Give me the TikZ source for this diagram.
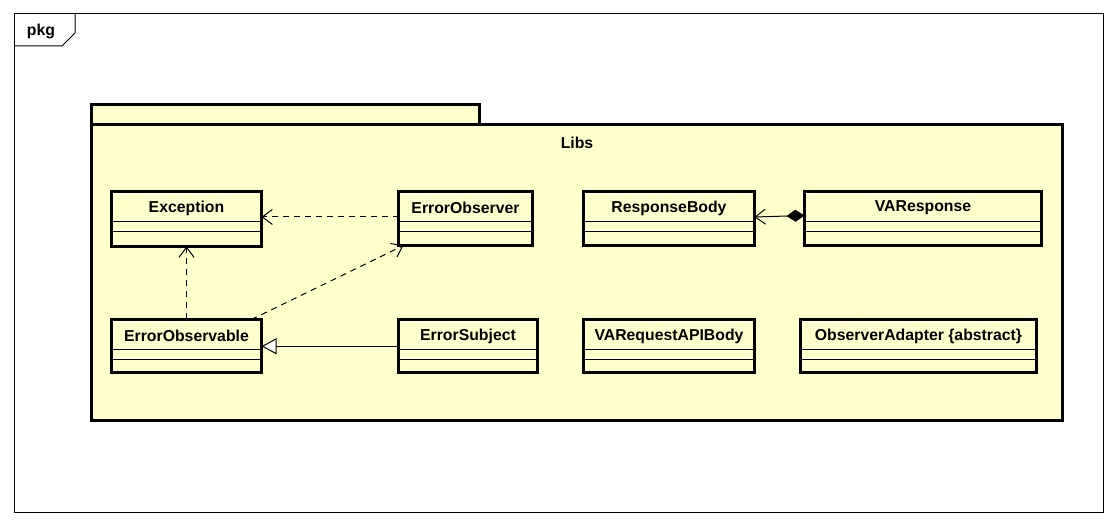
\documentclass[tikz,border=0pt]{standalone}
\usepackage{fontspec}
\setmainfont{Liberation Sans}
\usetikzlibrary{arrows.meta,calc}
\definecolor{pkgyellow}{RGB}{255,255,204}
\tikzset{
  clsbox/.style={draw=black, line width=3pt, fill=pkgyellow, inner sep=0pt, outer sep=0pt, rectangle},
  clstext/.style={font=\bfseries\fontsize{15.8}{18}\selectfont, inner sep=0pt},
  divider/.style={draw=black, line width=1pt},
  dep/.style={draw=black, line width=1pt, dash pattern=on 6pt off 5pt, -{Straight Barb[length=10pt,width=15pt,line width=1pt]}},
  gen/.style={draw=black, line width=1pt, -{Triangle[open,length=15pt,width=16pt,fill=white,line width=1pt]}},
  comp/.style={draw=black, line width=1pt, {Diamond[length=18pt,width=12pt,fill=black]}-{Straight Barb[length=10pt,width=15pt,line width=1pt]}},
}
\newcommand\umlcls[6]{%
  \node[clsbox, anchor=north west, minimum width={(#4-#2)*1pt}, minimum height={(#5-#3)*1pt}] (#1) at (#2,#3) {};
  \node[clstext] (#1-t) at ($(#1.north)+(0,16.5)$) {#6};
  \draw[divider] ($(#1.north west)+(0,30)$) -- ($(#1.north east)+(0,30)$);
  \draw[divider] ($(#1.north west)+(0,40)$) -- ($(#1.north east)+(0,40)$);
}
\begin{document}
\begin{tikzpicture}[x=1pt,y=-1pt]
\useasboundingbox (0,0) rectangle (1117,526);
\fill[white] (0,0) rectangle (1117,526);
% outer frame
\draw[line width=1pt] (14,14) rectangle (1103,512);
\draw[line width=1pt] (14,46) -- (62,46) -- (75,33) -- (75,14);
\node[clstext] (pkglabel) at (41,31) {pkg};
% package Libs
\draw[line width=3pt, fill=pkgyellow] (91,105) rectangle (479,125);
\draw[line width=3pt, fill=pkgyellow] (91,125) rectangle (1062,421);
\node[clstext] (libs) at (577,143) {Libs};
% classes
\umlcls{exc}{111.5}{191.5}{261.5}{246.5}{Exception}
\umlcls{eobs}{398.5}{191.5}{532.5}{245.5}{ErrorObserver}
\umlcls{rb}{583.5}{191.5}{754.5}{245.5}{ResponseBody}
\umlcls{var}{804.5}{191.5}{1041.5}{245.5}{VAResponse}
\umlcls{eobl}{111.5}{319.5}{261.5}{373}{ErrorObservable}
\umlcls{esub}{398.5}{319.5}{537.5}{373}{ErrorSubject}
\umlcls{vreq}{583.5}{319.5}{754.5}{373}{VARequestAPIBody}
\umlcls{oa}{800.5}{319.5}{1036.5}{373}{ObserverAdapter \{abstract\}}
% connectors
\draw[dep] ($(eobs.west)+(0,-1.5)$) -- ($(exc.east |- eobs.west)+(0,-1.5)$);
\draw[dep] (eobl.north) -- (exc.south);
\draw[dep] ($(eobl.north east)+(-10,0)$) -- ($(eobs.south west)+(5,0)$);
\draw[gen] (esub.west) -- (eobl.east |- esub.west);
\draw[comp] ($(var.west)+(0,-3)$) -- ($(rb.east)+(0,-1.5)$);
\end{tikzpicture}
\end{document}
